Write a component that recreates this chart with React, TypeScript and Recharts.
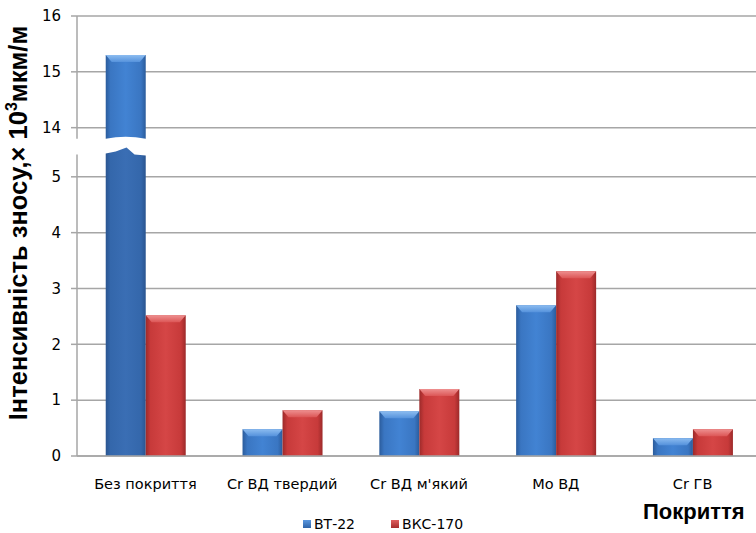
import { BarChart, Bar, XAxis, YAxis, CartesianGrid, ReferenceLine } from 'recharts'

const categories = ['Без покриття', 'Cr ВД твердий', "Cr ВД м'який", 'Мо ВД', 'Cr ГВ']
const bt22 = [15.3, 0.48, 0.8, 2.7, 0.32]
const bkc170 = [2.52, 0.82, 1.2, 3.31, 0.48]
const seriesNames = ['ВТ-22', 'ВКС-170']
const majorTicks = [0, 1, 2, 3, 4, 5, 14, 15, 16]

// broken value axis: 0..5.4 then 13.8..16
const BREAK_LO = 5.4
const BREAK_HI = 13.8
const SHIFT = 8.12
const tr = (v: number) => (v <= BREAK_LO ? v : v - SHIFT)
const untr = (t: number) => (t <= BREAK_LO + 0.01 ? t : t + SHIFT)
const TOP = tr(16)

const minorTicks: number[] = []
for (let i = 0; i <= 27; i++) minorTicks.push(tr(i * 0.2))
for (let i = 0; i <= 11; i++) minorTicks.push(tr(BREAK_HI + i * 0.2))

const data = categories.map((name, i) => ({ name, bt: bt22[i], bkc: bkc170[i] }))

const GRID = '#a6a6a6'

const palettes = {
  bt: { main: 'url(#gBlue)', dark: 'url(#gBlueDark)', bevel: 'url(#gBlueBevel)' },
  bkc: { main: 'url(#gRed)', dark: 'url(#gRed)', bevel: 'url(#gRedBevel)' },
}

function bevel(x: number, y: number, w: number, fill: string) {
  const d = Math.min(6, w / 4)
  return <polygon points={`${x},${y} ${x + w},${y} ${x + w - d},${y + 7} ${x + d},${y + 7}`} fill={fill} />
}

function makeShape(key: 'bt' | 'bkc') {
  const pal = palettes[key]
  return (p: any) => {
    const { x, y, width: w, height: h, payload } = p
    if (!h || h <= 0) return <g />
    const raw = payload[key]
    const bottom = y + h
    if (raw > BREAK_LO) {
      const ppu = h / tr(raw)
      const loTop = bottom - BREAK_LO * ppu
      const hiBot = bottom - tr(BREAK_HI) * ppu
      return (
        <g>
          <path d={`M${x},${y} L${x + w},${y} L${x + w},${hiBot} Q${x + w / 2},${hiBot - 4} ${x},${hiBot} Z`} fill={pal.main} />
          {bevel(x, y, w, pal.bevel)}
          <path
            d={`M${x},${loTop - 1} L${x + w * 0.25},${loTop - 3} L${x + w * 0.52},${loTop - 7} L${x + w * 0.72},${loTop} L${x + w},${loTop + 1} L${x + w},${bottom} L${x},${bottom} Z`}
            fill={pal.dark}
          />
        </g>
      )
    }
    return (
      <g>
        <rect x={x} y={y} width={w} height={h} fill={pal.main} />
        {bevel(x, y, w, pal.bevel)}
      </g>
    )
  }
}

function hGrad(id: string, edge: string, mid: string, center: string) {
  return (
    <linearGradient id={id} x1="0" y1="0" x2="1" y2="0">
      <stop offset="0" stopColor={edge} />
      <stop offset="0.12" stopColor={mid} />
      <stop offset="0.5" stopColor={center} />
      <stop offset="0.88" stopColor={mid} />
      <stop offset="1" stopColor={edge} />
    </linearGradient>
  )
}

export default function App() {
  return (
    <div style={{ position: 'relative', width: 756, height: 533, overflow: 'hidden', background: '#fff', fontFamily: 'DejaVu Sans' }}>
      <style>{'body{margin:0}'}</style>
      <BarChart
        width={770}
        height={533}
        data={data}
        margin={{ top: 16, right: 9, bottom: 47, left: 17 }}
        barCategoryGap="21%"
        barGap={0}
      >
        <defs>
          {hGrad('gBlue', '#2b5c9c', '#3a76c2', '#4283d3')}
          {hGrad('gBlueDark', '#2a5590', '#3467ab', '#3a6eb4')}
          {hGrad('gRed', '#9c2a2a', '#c73a3a', '#d54646')}
          <linearGradient id="gBlueBevel" x1="0" y1="0" x2="0" y2="1">
            <stop offset="0" stopColor="#8cbcf0" />
            <stop offset="1" stopColor="#5592dc" />
          </linearGradient>
          <linearGradient id="gRedBevel" x1="0" y1="0" x2="0" y2="1">
            <stop offset="0" stopColor="#ee9090" />
            <stop offset="1" stopColor="#dc5656" />
          </linearGradient>
        </defs>
        <CartesianGrid xAxisId="cat" yAxisId="v" vertical={false} stroke={GRID} strokeWidth={1.5} />
        <XAxis
          xAxisId="num"
          type="number"
          domain={[0, 5]}
          ticks={[0, 1, 2, 3, 4, 5]}
          allowDataOverflow
          height={0}
          axisLine={false}
          tick={false}
          tickLine={{ stroke: GRID, strokeWidth: 1.5 }}
          tickSize={6}
        />
        <XAxis
          xAxisId="cat"
          dataKey="name"
          height={30}
          axisLine={{ stroke: GRID, strokeWidth: 1.5 }}
          tickLine={false}
          tickMargin={17}
          tick={{ fill: '#000', fontSize: 14.5 }}
          interval={0}
        />
        <YAxis
          yAxisId="v"
          type="number"
          domain={[0, TOP]}
          ticks={majorTicks.map(tr)}
          tickFormatter={(t: number) => String(Math.round(untr(t)))}
          allowDataOverflow
          interval={0}
          width={60}
          axisLine={false}
          tickLine={{ stroke: GRID, strokeWidth: 1.5 }}
          tickSize={6}
          tickMargin={10}
          tick={{ fill: '#000', fontSize: 15 }}
        />
        <YAxis
          yAxisId="m"
          type="number"
          mirror
          domain={[0, TOP]}
          ticks={minorTicks}
          allowDataOverflow
          interval={0}
          width={0}
          axisLine={false}
          tick={false}
          tickLine={{ stroke: GRID, strokeWidth: 1.2 }}
          tickSize={5}
        />
        <ReferenceLine
          xAxisId="num"
          yAxisId="v"
          segment={[{ x: 0, y: 0 }, { x: 0, y: BREAK_LO }]}
          stroke={GRID}
          strokeWidth={1.5}
          ifOverflow="visible"
        />
        <ReferenceLine
          xAxisId="num"
          yAxisId="v"
          segment={[{ x: 0, y: tr(BREAK_HI) }, { x: 0, y: TOP }]}
          stroke={GRID}
          strokeWidth={1.5}
          ifOverflow="visible"
        />
        <Bar xAxisId="cat" yAxisId="v" name={seriesNames[0]} dataKey={(d: any) => tr(d.bt)} shape={makeShape('bt')} isAnimationActive={false} />
        <Bar xAxisId="cat" yAxisId="v" name={seriesNames[1]} dataKey={(d: any) => tr(d.bkc)} shape={makeShape('bkc')} isAnimationActive={false} />
      </BarChart>

      <svg width={40} height={533} style={{ position: 'absolute', left: 0, top: 0 }}>
        <text
          transform="translate(27,223) rotate(-90)"
          textAnchor="middle"
          fontFamily="Liberation Sans"
          fontWeight="bold"
          fontSize={25.5}
          fill="#000"
        >
          Інтенсивність зносу,× 10<tspan dy={-10} fontSize={16}>3</tspan>
          <tspan dy={10}>мкм/м</tspan>
        </text>
      </svg>

      <div style={{ position: 'absolute', left: 303, top: 515, display: 'flex', fontSize: 14, lineHeight: '18px' }}>
        {seriesNames.map((n, i) => (
          <div key={n} style={{ display: 'flex', alignItems: 'center', marginRight: i === 0 ? 36 : 0 }}>
            <span
              style={{
                width: 8,
                height: 8,
                marginRight: 3,
                background: i === 0 ? 'linear-gradient(#5a98e0,#2f64a8)' : 'linear-gradient(#e06060,#a52c2c)',
              }}
            />
            {n}
          </div>
        ))}
      </div>

      <div style={{ position: 'absolute', left: 643, top: 499, fontFamily: 'Liberation Sans', fontWeight: 'bold', fontSize: 22 }}>Покриття</div>
    </div>
  )
}
